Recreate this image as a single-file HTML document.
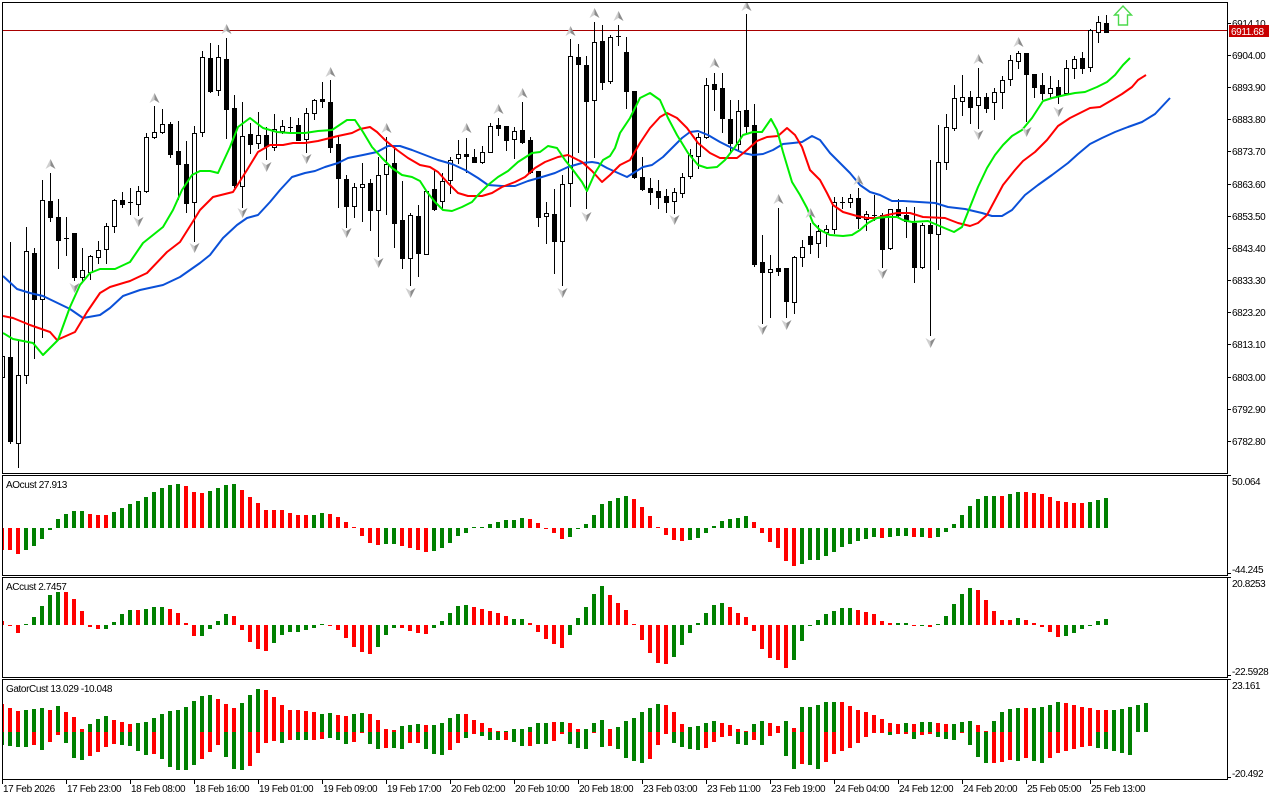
<!DOCTYPE html>
<html><head><meta charset="utf-8">
<style>
html,body{margin:0;padding:0;background:#fff;width:1280px;height:800px;overflow:hidden}
svg{display:block}
text{font-family:"Liberation Sans",Arial,sans-serif;font-size:10px;letter-spacing:-0.4px;fill:#000}
</style></head><body>
<svg width="1280" height="800" viewBox="0 0 1280 800">
<defs>
<clipPath id="cm"><rect x="3" y="3" width="1224" height="470"/></clipPath>
<clipPath id="cao"><rect x="3" y="476" width="1224" height="99"/></clipPath>
<clipPath id="cac"><rect x="3" y="578" width="1224" height="99"/></clipPath>
<clipPath id="cga"><rect x="3" y="680" width="1224" height="99"/></clipPath>
</defs>
<rect x="0" y="0" width="1280" height="800" fill="#fff"/>

<!-- current price line -->
<line x1="3" y1="30.5" x2="1227" y2="30.5" stroke="#a80000" stroke-width="1"/>

<g clip-path="url(#cm)">
  <g id="candles" shape-rendering="crispEdges"></g>
  <polyline fill="none" stroke="#0a50d8" stroke-width="2" stroke-linejoin="round" points="3,276 17,289 30,293 43,296 70,309 83,318 100,315 110,308 123,296 140,290 163,285 180,277 200,263 210,255 223,238 237,225 247,218 258,215 270,202 280,190 292,177 305,173 315,171 325,167 338,163 348,158 363,155 377,152 388,146 400,146 412,150 425,155 438,160 452,164 465,170 478,178 488,185 502,186 515,186 528,181 542,177 555,173 568,167 582,163 592,162 598,163 607,168 618,173 627,177 635,172 643,167 652,165 663,157 673,147 682,138 690,132 698,131 708,135 720,142 732,148 743,153 753,155 763,154 773,150 783,144 793,143 802,142 812,136 820,140 830,153 840,163 850,173 860,185 870,192 880,195 892,201 903,201 935,203 948,207 965,209 982,213 992,216 1002,216 1012,210 1025,195 1038,185 1052,175 1068,163 1078,154 1090,144 1102,138 1115,132 1128,127 1142,122 1155,114 1170,98"/>
  <polyline fill="none" stroke="#ff0000" stroke-width="2" stroke-linejoin="round" points="3,316 13,318 30,325 50,332 57,340 75,332 87,312 100,293 110,287 130,281 147,273 167,252 180,242 192,223 200,210 213,197 233,192 247,170 258,152 270,145 283,145 293,143 305,143 318,141 338,136 352,133 360,129 370,127 377,132 385,140 397,150 408,158 420,165 430,167 438,172 448,183 458,193 468,196 482,196 492,193 502,187 515,182 525,177 535,168 545,162 558,157 568,155 582,162 592,171 602,182 610,175 620,165 630,160 640,143 650,128 660,117 667,113 677,118 687,128 698,143 710,153 720,158 737,158 747,150 757,141 767,137 778,136 787,128 795,135 802,147 810,170 820,180 827,193 833,205 843,212 857,216 867,218 877,218 887,215 897,213 910,213 923,217 945,218 958,223 970,226 978,223 987,215 995,200 1003,185 1015,170 1023,161 1035,152 1047,140 1058,126 1070,118 1082,112 1090,108 1100,107 1112,100 1122,94 1132,87 1138,80 1146,75"/>
  <polyline fill="none" stroke="#00ee00" stroke-width="2" stroke-linejoin="round" points="3,333 13,339 33,343 43,355 58,340 70,307 80,285 90,273 100,269 115,269 130,262 143,243 163,227 173,210 182,190 192,175 200,171 210,171 218,173 230,147 238,127 250,118 263,128 277,132 290,133 305,133 318,131 332,130 347,120 355,120 363,132 372,147 382,158 392,168 402,175 412,177 420,181 427,192 435,202 443,210 452,211 462,207 472,202 478,195 488,185 498,177 508,171 518,162 532,153 540,152 548,146 557,148 565,160 573,170 582,182 587,191 595,173 603,160 610,156 615,148 620,133 630,118 640,98 650,93 660,100 668,118 677,135 688,153 698,165 707,168 717,167 725,160 735,147 743,135 753,132 762,132 771,119 777,130 783,152 792,182 800,195 807,208 813,223 820,230 830,235 843,236 852,235 860,230 868,223 877,218 887,217 897,217 903,220 912,222 928,221 942,227 954,232 962,227 970,207 978,187 987,168 995,155 1003,145 1012,136 1022,130 1032,118 1043,101 1052,98 1065,95 1075,93 1085,92 1097,87 1107,82 1115,75 1123,65 1130,58"/>
  <g id="fractals"></g>
  <polygon points="1123,6 1131.5,15 1127.5,15 1127.5,25 1118.5,25 1118.5,15 1114.5,15" fill="#fff" stroke="#4cd94c" stroke-width="1.4" stroke-linejoin="miter"/>
</g>

<g clip-path="url(#cao)"><g id="ao" shape-rendering="crispEdges"></g></g>
<g clip-path="url(#cac)"><g id="ac" shape-rendering="crispEdges"></g></g>
<g clip-path="url(#cga)"><g id="ga" shape-rendering="crispEdges"></g></g>

<!-- frames -->
<g fill="none" stroke="#000" stroke-width="1" shape-rendering="crispEdges">
<rect x="2.5" y="2.5" width="1225" height="471"/>
<rect x="2.5" y="475.5" width="1225" height="100"/>
<rect x="2.5" y="577.5" width="1225" height="100"/>
<rect x="2.5" y="679.5" width="1225" height="100"/>
</g>

<!-- price axis ticks -->
<g stroke="#000" stroke-width="1" shape-rendering="crispEdges">
<line x1="1227" y1="23.5" x2="1231" y2="23.5"/>
<line x1="1227" y1="55.5" x2="1231" y2="55.5"/>
<line x1="1227" y1="87.5" x2="1231" y2="87.5"/>
<line x1="1227" y1="119.5" x2="1231" y2="119.5"/>
<line x1="1227" y1="151.5" x2="1231" y2="151.5"/>
<line x1="1227" y1="184.5" x2="1231" y2="184.5"/>
<line x1="1227" y1="216.5" x2="1231" y2="216.5"/>
<line x1="1227" y1="248.5" x2="1231" y2="248.5"/>
<line x1="1227" y1="280.5" x2="1231" y2="280.5"/>
<line x1="1227" y1="312.5" x2="1231" y2="312.5"/>
<line x1="1227" y1="344.5" x2="1231" y2="344.5"/>
<line x1="1227" y1="377.5" x2="1231" y2="377.5"/>
<line x1="1227" y1="409.5" x2="1231" y2="409.5"/>
<line x1="1227" y1="441.5" x2="1231" y2="441.5"/>
<line x1="1227" y1="475.5" x2="1231" y2="475.5"/>
<line x1="1227" y1="573.5" x2="1231" y2="573.5"/>
<line x1="1227" y1="577.5" x2="1231" y2="577.5"/>
<line x1="1227" y1="675.5" x2="1231" y2="675.5"/>
<line x1="1227" y1="679.5" x2="1231" y2="679.5"/>
<line x1="1227" y1="777.5" x2="1231" y2="777.5"/>
</g>
<g>
<text x="1232" y="27">6914.10</text>
<text x="1232" y="59">6904.00</text>
<text x="1232" y="91">6893.90</text>
<text x="1232" y="123">6883.80</text>
<text x="1232" y="155">6873.70</text>
<text x="1232" y="188">6863.60</text>
<text x="1232" y="220">6853.50</text>
<text x="1232" y="252">6843.40</text>
<text x="1232" y="284">6833.30</text>
<text x="1232" y="316">6823.20</text>
<text x="1232" y="348">6813.10</text>
<text x="1232" y="381">6803.00</text>
<text x="1232" y="413">6792.90</text>
<text x="1232" y="445">6782.80</text>
</g>
<rect x="1229" y="25" width="40" height="12" fill="#c80000"/>
<text x="1231" y="35" style="fill:#fff">6911.68</text>

<text x="1232" y="485">50.064</text>
<text x="1232" y="573">-44.245</text>
<text x="1232" y="587">20.8253</text>
<text x="1232" y="675">-22.5928</text>
<text x="1232" y="689">23.161</text>
<text x="1232" y="777">-20.492</text>

<text x="6" y="488">AOcust 27.913</text>
<text x="6" y="590">ACcust 2.7457</text>
<text x="6" y="692">GatorCust 13.029 -10.048</text>

<!-- time axis -->
<g stroke="#000" stroke-width="1" shape-rendering="crispEdges">
<line x1="2.5" y1="779" x2="2.5" y2="784"/>
<line x1="66.5" y1="779" x2="66.5" y2="784"/>
<line x1="130.5" y1="779" x2="130.5" y2="784"/>
<line x1="194.5" y1="779" x2="194.5" y2="784"/>
<line x1="258.5" y1="779" x2="258.5" y2="784"/>
<line x1="322.5" y1="779" x2="322.5" y2="784"/>
<line x1="386.5" y1="779" x2="386.5" y2="784"/>
<line x1="450.5" y1="779" x2="450.5" y2="784"/>
<line x1="514.5" y1="779" x2="514.5" y2="784"/>
<line x1="578.5" y1="779" x2="578.5" y2="784"/>
<line x1="642.5" y1="779" x2="642.5" y2="784"/>
<line x1="706.5" y1="779" x2="706.5" y2="784"/>
<line x1="770.5" y1="779" x2="770.5" y2="784"/>
<line x1="834.5" y1="779" x2="834.5" y2="784"/>
<line x1="898.5" y1="779" x2="898.5" y2="784"/>
<line x1="962.5" y1="779" x2="962.5" y2="784"/>
<line x1="1026.5" y1="779" x2="1026.5" y2="784"/>
<line x1="1090.5" y1="779" x2="1090.5" y2="784"/>
</g>
<g>
<text x="3" y="792">17 Feb 2026</text>
<text x="67" y="792">17 Feb 23:00</text>
<text x="131" y="792">18 Feb 08:00</text>
<text x="195" y="792">18 Feb 16:00</text>
<text x="259" y="792">19 Feb 01:00</text>
<text x="323" y="792">19 Feb 09:00</text>
<text x="387" y="792">19 Feb 17:00</text>
<text x="451" y="792">20 Feb 02:00</text>
<text x="515" y="792">20 Feb 10:00</text>
<text x="579" y="792">20 Feb 18:00</text>
<text x="643" y="792">23 Feb 03:00</text>
<text x="707" y="792">23 Feb 11:00</text>
<text x="771" y="792">23 Feb 19:00</text>
<text x="835" y="792">24 Feb 04:00</text>
<text x="899" y="792">24 Feb 12:00</text>
<text x="963" y="792">24 Feb 20:00</text>
<text x="1027" y="792">25 Feb 05:00</text>
<text x="1091" y="792">25 Feb 13:00</text>
</g>
</svg>

<script>
(function(){
var C=[[350,380,356,377,1],[242,443,357,441,0],[340,467,375,443,1],[227,383,251,375,1],[248,358,253,299,0],[180,337,200,299,1],[173,221,201,217,0],[199,268,217,240,0],[217,255,238,239,2],[233,280,233,277,0],
[248,280,270,277,1],[255,279,256,272,1],[241,263,250,257,1],[223,263,226,249,1],[199,232,200,226,1],[192,207,200,204,0],[188,214,202,203,2],[186,215,191,204,1],[133,192,137,191,1],[106,138,132,137,1],
[109,133,124,132,1],[122,157,124,154,0],[121,199,151,164,0],[141,212,164,203,0],[126,241,133,202,1],[51,136,57,132,1],[43,92,58,91,0],[45,95,57,90,1],[38,138,59,109,0],[95,187,108,185,0],
[102,207,136,186,1],[123,153,134,144,0],[112,148,135,143,1],[127,159,135,146,0],[114,150,129,147,1],[120,133,126,131,1],[117,133,127,128,2],[118,140,125,140,0],[108,152,113,139,1],[99,119,100,113,1],
[82,107,99,101,0],[80,152,102,147,0],[135,207,144,178,0],[175,227,179,206,0],[183,217,187,206,1],[163,221,184,187,1],[179,230,183,210,0],[157,256,175,210,1],[137,214,164,174,1],[149,247,163,223,0],
[181,268,220,258,0],[213,285,215,258,1],[205,276,216,253,0],[191,254,191,254,1],[170,210,189,209,0],[173,208,181,201,1],[157,193,160,180,1],[140,163,154,158,1],[138,172,154,156,0],[149,162,157,162,0],
[146,163,152,162,1],[123,152,126,152,1],[118,135,125,128,0],[126,150,126,140,0],[127,158,131,139,1],[102,143,130,142,0],[137,173,140,172,0],[171,226,171,217,0],[202,243,213,216,1],[189,273,214,241,0],
[175,285,184,241,1],[39,206,56,183,1],[44,152,57,64,0],[56,208,65,101,0],[22,157,42,100,1],[25,89,41,82,0],[35,83,37,81,1],[25,45,36,37,2],[37,108,52,91,0],[91,178,91,177,0],
[157,190,177,189,0],[178,204,188,192,0],[180,208,191,197,0],[189,212,196,202,0],[188,213,192,201,1],[173,197,177,193,1],[149,178,155,176,1],[133,168,137,156,1],[78,138,85,137,1],[73,110,84,89,0],
[73,132,88,118,0],[100,152,119,143,0],[100,150,111,144,1],[14,133,110,126,0],[104,266,125,264,0],[235,323,262,272,0],[255,317,269,272,1],[208,275,268,271,0],[268,317,268,301,0],[256,313,257,302,1],
[240,266,247,257,1],[223,253,236,244,0],[225,257,231,243,1],[225,246,229,232,1],[197,233,202,229,1],[197,208,202,203,2],[194,207,198,202,1],[188,228,198,218,0],[211,230,214,219,1],[195,220,215,216,2],
[213,267,215,249,0],[209,249,209,248,1],[199,217,209,215,0],[207,237,215,221,0],[207,282,223,267,0],[223,268,225,267,1],[160,335,225,233,0],[125,269,162,234,1],[114,169,127,162,1],[85,130,98,128,1],
[75,115,97,101,1],[91,123,97,107,0],[68,128,97,105,1],[93,112,97,108,0],[88,119,92,102,1],[76,108,80,92,1],[55,85,60,79,1],[51,68,53,61,1],[53,121,53,74,0],[74,97,74,87,0],
[73,99,85,93,0],[76,98,88,93,1],[80,103,87,96,0],[60,94,68,93,1],[56,78,59,68,1],[52,73,58,68,0],[29,71,30,67,1],[16,42,22,32,1],[15,32,23,32,0]];
var s='',i;
for(i=0;i<C.length;i++){var d=C[i],c=2+8*i;
 s+='<rect x="'+c+'" y="'+d[0]+'" width="1" height="'+(d[1]-d[0]+1)+'" fill="#000"/>';
 if(d[4]==1){s+='<rect x="'+(c-1.5)+'" y="'+(d[2]+0.5)+'" width="4" height="'+Math.max(d[3]-d[2],1)+'" fill="#fff" stroke="#000" stroke-width="1"/>';}
 else if(d[4]==0){s+='<rect x="'+(c-2)+'" y="'+d[2]+'" width="5" height="'+Math.max(d[3]-d[2]+1,2)+'" fill="#000"/>';}
 else{s+='<rect x="'+(c-2)+'" y="'+d[2]+'" width="5" height="1" fill="#000"/>';}
}
document.getElementById('candles').innerHTML=s;

var UP=[[50.5,164],[154.5,98],[226.5,29],[330.5,72],[386.5,128],[466.5,128],[498.5,109],[522.5,93],[570.5,31],[594.5,13],[618.5,16],[714.5,63],[746.5,6],[778.5,199],[810.5,213],[858.5,180],[978.5,59],[1018.5,42]];
var DN=[[18.5,478],[74.5,288],[138.5,222],[194.5,248],[242.5,213],[266.5,167],[306.5,159],[346.5,233],[378.5,263],[410.5,293],[562.5,293],[586.5,217],[674.5,220],[762.5,330],[786.5,325],[882.5,274],[930.5,343],[978.5,135],[1026.5,132],[1058.5,112]];
s='';
for(i=0;i<UP.length;i++){var x=UP[i][0],y=UP[i][1];
 s+='<polygon points="'+x+','+(y-5)+' '+x+','+(y+2)+' '+(x-5)+','+(y+5)+'" fill="#cfcfcf"/>';
 s+='<polygon points="'+x+','+(y-5)+' '+(x+5)+','+(y+5)+' '+x+','+(y+2)+'" fill="#8c8c8c"/>';}
for(i=0;i<DN.length;i++){var x=DN[i][0],y=DN[i][1];
 s+='<polygon points="'+x+','+(y+5)+' '+x+','+(y-2)+' '+(x-5)+','+(y-5)+'" fill="#cfcfcf"/>';
 s+='<polygon points="'+x+','+(y+5)+' '+(x+5)+','+(y-5)+' '+x+','+(y-2)+'" fill="#8c8c8c"/>';}
document.getElementById('fractals').innerHTML=s;

function rl(str){var o='';str.replace(/([rg])(\d+)/g,function(m,ch,n){for(var k=0;k<+n;k++)o+=ch;return m;});return o;}
function col(ch){return ch=='g'?'#008000':'#ff0000';}
function hist(arr,cols,zero){var o='';for(var j=0;j<arr.length;j++){var h=arr[j],a=Math.abs(h);if(a<1)a=1;var y=h>0?zero-a:zero;
 o+='<rect x="'+(8*j)+'" y="'+y+'" width="4" height="'+a+'" fill="'+col(cols.charAt(j))+'"/>';}return o;}

var AO=[-22,-22,-26,-22,-18,-11,-2,9,14,17,17,14,13,13,16,20,24,27,31,36,40,43,44,42,36,35,37,40,43,44,38,31,25,18,18,18,15,13,13,13,15,14,11,6,1,-8,-15,-17,-16,-16,-18,-20,-22,-24,-23,-20,-15,-8,-5,1,1,4,6,8,8,10,9,5,-1,-5,-11,-9,-1,
4,13,24,27,30,32,29,21,12,1,-7,-12,-13,-12,-10,-5,2,7,9,10,12,6,-5,-14,-20,-33,-38,-36,-32,-32,-28,-24,-19,-16,-13,-11,-9,-10,-9,-8,-8,-9,-9,-10,-9,-4,4,13,22,29,32,32,32,34,36,36,35,34,31,27,26,25,25,26,28,30];
var AOC=rl('r3g8r3g9r3g4r9g2r7g2r4g12r5g8r7g8r6g10r1g3r1g1r1g8r1g2r8g3');
document.getElementById('ao').innerHTML=hist(AO,AOC,528);

var AC=[4,-1,-8,1,8,19,30,33,33,26,14,-2,-4,-4,3,11,15,15,16,18,18,16,12,2,-11,-11,-4,4,11,9,-5,-17,-24,-26,-18,-10,-7,-7,-5,-3,0.5,-0.5,-5,-13,-22,-27,-29,-22,-10,-3,-3,-6,-8,-9,-3,4,12,19,20,18,16,14,12,9,6,6,2,-7,-14,-19,-23,-10,7,
18,31,39,30,22,15,1,-15,-28,-38,-39,-32,-20,-8,2,12,20,22,18,12,8,-6,-24,-33,-35,-43,-35,-16,-1,5,11,14,17,17,15,13,11,4,2,2,2,-1,-1,-2,1,9,21,31,37,35,25,14,5,5,7,5,2,-2,-7,-12,-11,-8,-4,-1,4,6];
var ACC=rl('r3g5r5g4r1g3r4g4r5g7r6g3r4g5r5g2r5g5r8g7r8g8r5g2r1g1r1g5r5g1r5g6');
document.getElementById('ac').innerHTML=hist(AC,ACC,625);

var G=['28r13g','24r14g','21r15g','22g15g','23g13r','24g18g','22r10r','26g3r','20r11g','15r26g','3r28g','8g24r','13g20r','16g15r','12r12r','10r13g','8r14g','9g19g','10g23g','14g22r',
'18g27g','21g35g','22g38g','25g38g','31g33g','36g27r','37g20r','33r13r','28r25g','24r37g','29g38g','37g34r','43g21r','42r11r','35r9r','27r11g','22r8r','22r8g','21r8g','20r8r',
'18g7r','19g6g','17r8g','16r12g','18g10r','19g1r','18r12g','12r17g','3r16r','2r16g','6g17g','7g11r','8g11r','7r17g','7g22g','9g23g','14g18r','18g11r','18r6g','12r2r',
'9r4g','4r8g','1r8g','1g8r','3g10g','3g14g','5g14r','9g12g','9g12g','10r9r','10g2r','9r12g','3r16g','3g17g','9g1r','12g15g','3r14r','5g17g','11g26g','14g29g',
'20g31g','24g27r','28g13r','27r2r','20r11g','8r15g','5g17g','6g18g','9g16r','11g10r','9r5r','7r4r','3r12g','1r13g','8g8r','11g13g','9r4r','6r1r','11g24g','4r37g',
'25g32r','25g33g','27g37g','30g30r','30g22r','30r19r','26r16r','22r11r','20r5r','17r1r','13r1r','9r3g','8r2r','9g2r','8r7g','10g3r','10g2r','9r5g','8r7g','8g8g',
'10g1r','11g13g','7r25g','1r31g','11g31r','20g30r','23g28r','24g29g','24r26r','24g29g','25g31g','27g26r','30g21r','29r19r','27r17r','25r15r','24r14r','22r16g','22r17g','22g19g',
'23g21g','25g23g','27g','29g'];
s='';
for(i=0;i<G.length;i++){var m=G[i].match(/^(\d+)([rg])(?:(\d+)([rg]))?$/);var U=+m[1],x=8*i;
 s+='<rect x="'+x+'" y="'+(732-U)+'" width="4" height="'+U+'" fill="'+col(m[2])+'"/>';
 if(m[3]){var L=+m[3];s+='<rect x="'+x+'" y="732" width="4" height="'+L+'" fill="'+col(m[4])+'"/>';}}
document.getElementById('ga').innerHTML=s;
})();
</script>
</body></html>
